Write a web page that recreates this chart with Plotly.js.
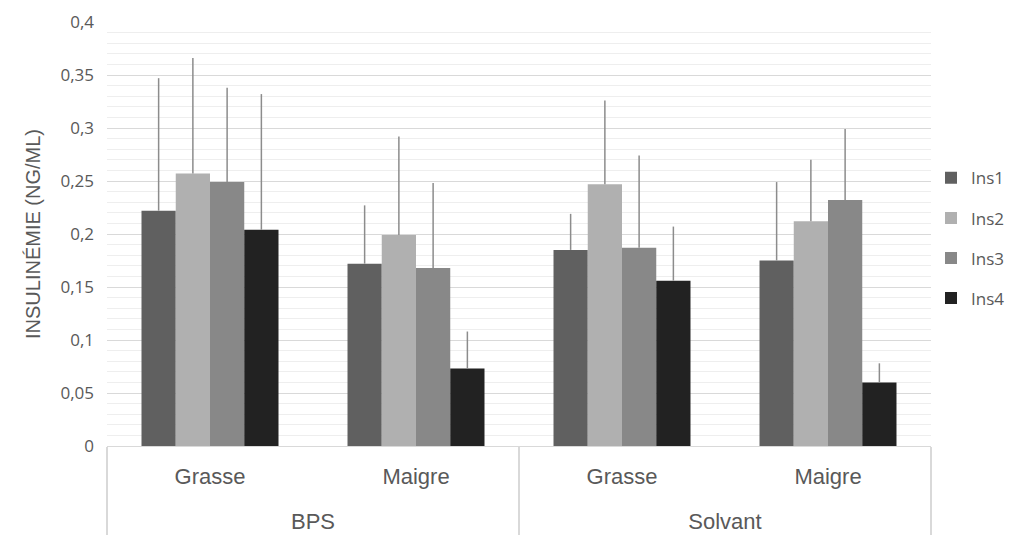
<!DOCTYPE html>
<html>
<head>
<meta charset="utf-8">
<script src="https://cdn.plot.ly/plotly-3.0.1.min.js"></script>
<style>
  html, body { margin: 0; padding: 0; background: #ffffff; }
  #chart { width: 1009px; height: 535px; }
</style>
</head>
<body>
<div id="chart"></div>
<script>
// Treatment groups (outer) and diet (inner) for the grouped category axis
const treatments = ['BPS', 'BPS', 'Solvant', 'Solvant'];
const diets = ['Grasse', 'Maigre', 'Grasse', 'Maigre'];

// Insulinemia means (ng/mL) per measurement
const ins1 = [0.222, 0.172, 0.185, 0.175];
const ins2 = [0.257, 0.199, 0.247, 0.212];
const ins3 = [0.249, 0.168, 0.187, 0.232];
const ins4 = [0.204, 0.073, 0.156, 0.060];

// Upper error bars (ng/mL)
const err1 = [0.125, 0.055, 0.034, 0.074];
const err2 = [0.109, 0.093, 0.079, 0.058];
const err3 = [0.089, 0.080, 0.087, 0.067];
const err4 = [0.128, 0.035, 0.051, 0.018];

const seriesNames = ['Ins1', 'Ins2', 'Ins3', 'Ins4'];
const seriesValues = [ins1, ins2, ins3, ins4];
const seriesErrors = [err1, err2, err3, err4];
const seriesColors = ['#606060', '#b0b0b0', '#888888', '#222222'];

// Outer labels get a blank first line so they sit lower under the diet row
const outerLabels = treatments.map(t => '<br>' + t);

const traces = seriesNames.map((name, i) => ({
  type: 'bar',
  name: name,
  legendgroup: name,
  x: [outerLabels, diets],
  y: seriesValues[i],
  marker: { color: seriesColors[i], line: { width: 0 } },
  error_y: {
    type: 'data',
    symmetric: false,
    array: seriesErrors[i],
    arrayminus: seriesErrors[i].map(() => 0),
    color: '#8c8c8c',
    thickness: 1.5,
    width: 0
  },
  hoverinfo: 'y'
}));

const textColor = '#595959';

const layout = {
  width: 1009,
  height: 535,
  margin: { l: 107, r: 78, t: 22, b: 89, autoexpand: false },
  paper_bgcolor: '#ffffff',
  plot_bgcolor: '#ffffff',
  separators: ', ',
  barmode: 'group',
  bargap: 0.335,
  bargroupgap: 0,
  font: { family: 'Liberation Sans, Arial, sans-serif', color: textColor },
  xaxis: {
    type: 'multicategory',
    showline: true,
    linecolor: '#d9d9d9',
    linewidth: 1,
    ticks: '',
    ticklabelstandoff: 11,
    showdividers: true,
    dividercolor: '#d9d9d9',
    dividerwidth: 1.5,
    tickfont: { family: 'Liberation Sans, Arial, sans-serif', size: 22, color: textColor }
  },
  yaxis: {
    range: [0, 0.4],
    dtick: 0.05,
    tickformat: '.2~f',
    showgrid: true,
    gridcolor: '#d9d9d9',
    gridwidth: 1,
    zeroline: false,
    showline: false,
    ticks: '',
    ticklabelstandoff: 12,
    minor: { dtick: 0.01, showgrid: true, gridcolor: '#eeeeee', gridwidth: 1 },
    tickfont: { family: 'Open Sans, sans-serif', size: 17, color: textColor },
    title: {
      text: 'INSULINÉMIE (NG/ML)',
      font: { family: 'Liberation Sans, Arial, sans-serif', size: 20, color: textColor },
      standoff: 14
    }
  },
  legend: {
    x: 1.0,
    xanchor: 'left',
    y: 0.49,
    yanchor: 'middle',
    tracegroupgap: 15,
    traceorder: 'grouped',
    font: { family: 'Open Sans, sans-serif', size: 17, color: textColor },
    bgcolor: 'rgba(0,0,0,0)'
  },
  showlegend: true
};

Plotly.newPlot('chart', traces, layout, { displayModeBar: false, staticPlot: true });
</script>
</body>
</html>
